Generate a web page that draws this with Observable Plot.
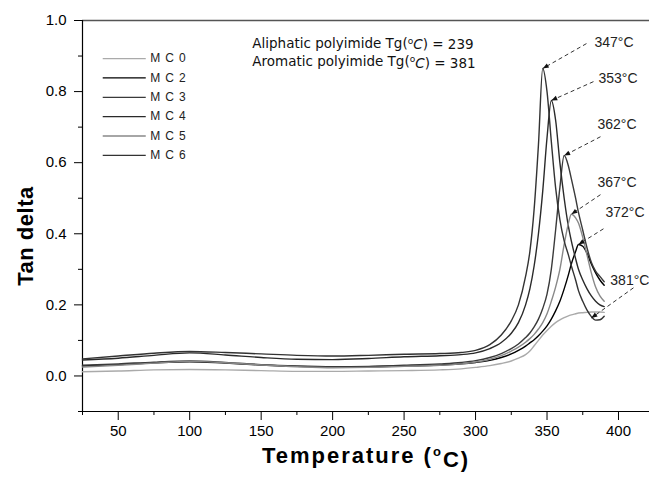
<!DOCTYPE html>
<html><head><meta charset="utf-8">
<script src="https://cdn.jsdelivr.net/npm/d3@7"></script>
<script src="https://cdn.jsdelivr.net/npm/@observablehq/plot@0.6"></script>
<style>
html,body{margin:0;padding:0;background:#fff;}
#chart svg{display:block;}
</style></head><body><div id="chart"></div>
<script>
// ---- data ----
const series = ["MC0", "MC2", "MC3", "MC4", "MC5", "MC6"];
const colors = ["#aaaaaa", "#000000", "#3a3a3a", "#2a2a2a", "#888888", "#333333"];
const temps = [25, 50, 75, 100, 125, 150, 175, 200, 225, 250, 275, 290, 300, 310, 318, 325, 330, 335, 338, 341, 344, 347, 350, 353, 356, 359, 362, 365, 367, 370, 372, 375, 378, 381, 384, 387, 390];
const mc0 = [0.012,0.014,0.017,0.018,0.017,0.015,0.013,0.013,0.014,0.015,0.017,0.020,0.024,0.029,0.035,0.042,0.050,0.060,0.070,0.085,0.100,0.115,0.128,0.140,0.150,0.158,0.164,0.169,0.172,0.175,0.177,0.178,0.179,0.180,0.180,0.180,0.179];
const mc2 = [0.028,0.032,0.037,0.040,0.036,0.031,0.027,0.025,0.026,0.028,0.031,0.034,0.038,0.044,0.052,0.062,0.072,0.084,0.093,0.102,0.113,0.126,0.141,0.160,0.183,0.210,0.245,0.285,0.315,0.350,0.370,0.365,0.345,0.315,0.290,0.270,0.255];
const mc3 = [0.030,0.034,0.039,0.042,0.038,0.032,0.028,0.026,0.027,0.030,0.034,0.038,0.043,0.052,0.063,0.077,0.090,0.108,0.121,0.138,0.160,0.190,0.230,0.300,0.410,0.530,0.620,0.590,0.555,0.500,0.460,0.410,0.360,0.320,0.295,0.280,0.265];
const mc4 = [0.045,0.050,0.058,0.065,0.059,0.052,0.047,0.046,0.049,0.054,0.057,0.060,0.065,0.077,0.094,0.120,0.150,0.200,0.245,0.310,0.400,0.520,0.670,0.775,0.720,0.600,0.500,0.420,0.380,0.330,0.300,0.270,0.245,0.225,0.210,0.200,0.195];
const mc5 = [0.025,0.030,0.036,0.041,0.037,0.031,0.026,0.023,0.024,0.027,0.030,0.034,0.039,0.047,0.057,0.070,0.081,0.095,0.105,0.117,0.132,0.150,0.175,0.210,0.250,0.300,0.370,0.430,0.455,0.445,0.430,0.390,0.340,0.290,0.250,0.225,0.210];
const mc6 = [0.048,0.056,0.064,0.069,0.066,0.062,0.058,0.056,0.058,0.061,0.063,0.066,0.072,0.088,0.115,0.155,0.200,0.280,0.350,0.470,0.650,0.865,0.800,0.660,0.530,0.440,0.380,0.340,0.310,0.270,0.240,0.210,0.185,0.167,0.157,0.158,0.168];
const values = [mc0, mc2, mc3, mc4, mc5, mc6];

const xMajor = [50, 100, 150, 200, 250, 300, 350, 400];
const xMinor = [25, 75, 125, 175, 225, 275, 325, 375];
const yMajor = [0, 0.2, 0.4, 0.6, 0.8, 1.0];
const yMinor = [-0.1, 0.1, 0.3, 0.5, 0.7, 0.9];

// peak annotations
const peakLabels = ["347°C", "353°C", "362°C", "367°C", "372°C", "381°C"];
const peakT = [347, 353, 362, 367, 372, 381];
const peakV = [0.865, 0.775, 0.62, 0.455, 0.37, 0.163];
const labelT = [383.2, 386.0, 385.3, 385.3, 390.9, 394.3];
const labelV = [0.937, 0.837, 0.707, 0.544, 0.459, 0.268];
const tailT = [377.6, 382.5, 387.4, 387.4, 389.5, 410.5];
const tailV = [0.935, 0.828, 0.673, 0.510, 0.414, 0.248];

const noteNames = ["Aliphatic polyimide", "Aromatic polyimide"];
const noteValues = [239, 381];
const xTitle = "Temperature (oC)";
const yTitle = "Tan delta";

// ---- build tables ----
const rows = series.flatMap((s, i) => temps.map((t, j) => ({series: s, T: t, v: values[i][j]})));
const peaks = peakLabels.map((l, i) => ({label: l, pt: peakT[i], pv: peakV[i], lt: labelT[i], lv: labelV[i], tt: tailT[i], tv: tailV[i]}));
const notes = noteNames.map((n, i) => ({name: n, value: noteValues[i], v: 0.936 - i * 0.051}));
const legendRows = series.map((s, i) => ({s, v: 0.893 - i * 0.0545}));

const plot = Plot.plot({
  width: 649, height: 477,
  marginLeft: 82, marginRight: 0, marginTop: 20, marginBottom: 66,
  style: {fontFamily: "'Liberation Sans', Arial, sans-serif", fontSize: "15px", background: "#fff", color: "#000"},
  x: {domain: [25, 421.7], label: null},
  y: {domain: [-0.1, 1.0], label: null},
  color: {domain: series, range: colors},
  marks: [
    Plot.axisX({ticks: xMajor, tickSize: 9, tickPadding: 5, tickFormat: d => String(d), label: null, fontSize: 15}),
    Plot.axisX({ticks: xMinor, tickSize: 4, tickFormat: () => "", label: null}),
    Plot.axisY({ticks: yMajor, tickSize: 8, tickPadding: 8, tickFormat: d3.format(".1f"), label: null, fontSize: 15}),
    Plot.axisY({ticks: yMinor, tickSize: 4, tickFormat: () => "", label: null}),
    Plot.ruleY([1.0], {stroke: "#555", strokeWidth: 1.6}),
    Plot.ruleX([25], {stroke: "#000", strokeWidth: 1.2}),
    Plot.ruleY([-0.1], {stroke: "#000", strokeWidth: 1.2}),
    Plot.line(rows, {x: "T", y: "v", z: "series", stroke: "series", strokeWidth: 1.4, curve: "monotone-x"}),
    // legend
    Plot.ruleY(legendRows, {y: "v", x1: () => 39.5, x2: () => 69.6, stroke: "s", strokeWidth: 1.3}),
    Plot.text(legendRows, {x: () => 72.4, y: "v", text: "s", textAnchor: "start", fill: "#222", fontSize: 12}),
    // notes
    Plot.text(notes, {x: () => 143.8, y: "v", text: d => `${d.name} Tg(oC) = ${d.value}`, textAnchor: "start", fill: "#111", fontSize: 13.5, fontFamily: "'DejaVu Sans', sans-serif"}),
    // peak arrows and labels
    Plot.link(peaks, {x1: "tt", y1: "tv", x2: "pt", y2: "pv", stroke: "#333", strokeWidth: 1, strokeDasharray: "4,3"}),
    Plot.text(peaks, {x: "lt", y: "lv", text: "label", textAnchor: "start", fill: "#222", fontSize: 14}),
    // axis titles
    Plot.text([xTitle], {frameAnchor: "bottom", dy: 51, text: d => d, textAnchor: "middle", fontSize: 22, fontWeight: "bold", fill: "#000"}),
    Plot.text([yTitle], {frameAnchor: "left", dx: -57, dy: 20, rotate: -90, textAnchor: "middle", text: d => d, fontSize: 22, fontWeight: "bold", fill: "#000"})
  ]
});

const svg = d3.select(plot);
const defs = svg.insert("defs", ":first-child");
defs.append("marker").attr("id", "ah").attr("viewBox", "0 0 10 10").attr("refX", 10).attr("refY", 5)
  .attr("markerWidth", 8).attr("markerHeight", 6).attr("markerUnits", "userSpaceOnUse").attr("orient", "auto")
  .append("path").attr("d", "M0,1L10,5L0,9Z").attr("fill", "#111").attr("stroke", "none");
svg.selectAll('g[aria-label="link"] path, g[aria-label="link"] line').attr("marker-end", "url(#ah)");

svg.selectAll("text").each(function() {
  const s = this.textContent;
  const t = d3.select(this);
  if (s === xTitle) {
    t.text(null).style("letter-spacing", "2px");
    t.append("tspan").text("Temperature (");
    t.append("tspan").attr("dy", "-0.5em").attr("font-size", "13px").text("o");
    t.append("tspan").attr("dy", "0.5em").text("C)");
  } else if (s === yTitle) {
    t.style("letter-spacing", "0.5px");
  } else if (series.includes(s)) {
    t.style("letter-spacing", "5px");
  } else {
    const i = noteNames.findIndex(n => s.startsWith(n));
    if (i >= 0) {
      const d = notes[i];
      t.text(null);
      t.append("tspan").text(`${d.name} Tg(`);
      t.append("tspan").attr("dy", "-0.4em").attr("font-size", "9px").text("o");
      t.append("tspan").attr("dy", "0.4em").attr("font-style", "italic").text("C");
      t.append("tspan").text(`) = ${d.value}`);
    }
  }
});

document.getElementById("chart").appendChild(plot);
</script></body></html>
